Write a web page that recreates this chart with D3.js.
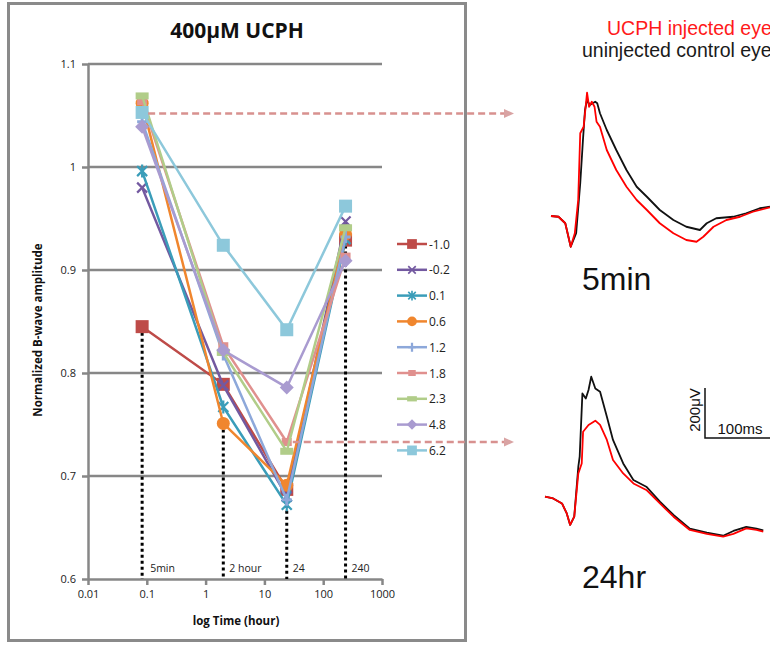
<!DOCTYPE html>
<html><head><meta charset="utf-8">
<script src="https://cdn.jsdelivr.net/npm/d3@7"></script>
<style>
html,body{margin:0;padding:0;background:#fff;}
svg{display:block;}
</style></head><body>
<svg id="c" width="770" height="646"></svg>
<script>
// ---------- DATA ----------
const timePoints = [0.0833, 2, 24, 240];
const seriesNames = ["-1.0","-0.2","0.1","0.6","1.2","1.8","2.3","4.8","6.2"];
const vM10 = [0.845, 0.789, 0.687, 0.929];
const vM02 = [0.980, 0.788, 0.680, 0.947];
const v01  = [0.996, 0.767, 0.672, 0.930];
const v06  = [1.062, 0.751, 0.691, 0.935];
const v12  = [1.044, 0.818, 0.677, 0.932];
const v18  = [1.064, 0.826, 0.733, 0.913];
const v23  = [1.069, 0.820, 0.724, 0.941];
const v48  = [1.039, 0.822, 0.786, 0.909];
const v62  = [1.053, 0.924, 0.842, 0.962];
const seriesValues = [vM10, vM02, v01, v06, v12, v18, v23, v48, v62];
const seriesColors = ["#BE4B48","#7359A0","#3A9DB9","#F0862E","#8DA8DA","#E0908E","#B1CD89","#A99BD0","#8DC8DB"];
const seriesMarkers = ["square","x","star","circle","plus","dashS","dashL","diamond","square"];

const xTicks = [0.01, 0.1, 1, 10, 100, 1000];
const xTickLabels = ["0.01","0.1","1","10","100","1000"];
const yTicks = [0.6, 0.7, 0.8, 0.9, 1.0, 1.1];
const yTickLabels = ["0.6","0.7","0.8","0.9","1","1.1"];
const timeLabels = ["5min","2 hour","24","240"];
const dropTops = [0.845, 0.751, 0.672, 0.947];
const arrowTimes = [0.0833, 24];
const arrowLevels = [1.052, 0.733];

// ERG traces (ms, µV)
const t5Red   = [0,11,21,29,35,40,43,48,53,56,60,64,67,72,82,96,111,126,141,160,180,199,214,224,239,258,278,297,322];
const v5Red   = [0,-3,-29,-123,-69,64,331,357,493,437,457,437,377,357,264,184,117,64,24,-29,-69,-96,-103,-83,-43,-16,-3,17,35];
const t5Black = [0,11,21,29,37,43,47,50,53,57,65,68,72,82,96,111,126,141,160,180,199,219,229,243,268,287,307,322];
const v5Black = [0,-3,-29,-123,-69,131,304,424,464,444,457,451,411,344,264,184,117,77,24,-16,-43,-56,-29,-9,-3,11,31,37];
const t24Red   = [0,12,25,32,37,43,49,54,56,64,74,81,91,100,115,130,149,169,189,213,238,262,277,296,311,321];
const v24Red   = [0,-7,-27,-67,-113,-80,93,133,260,287,304,287,227,147,93,53,27,-27,-80,-133,-149,-160,-149,-127,-133,-140];
const t24Black = [0,12,25,32,37,43,49,51,55,60,64,68,74,81,91,100,115,130,149,169,189,213,238,262,277,296,311,321];
const v24Black = [0,-7,-27,-67,-113,-80,120,160,413,393,427,480,433,420,320,227,133,67,40,-20,-73,-128,-144,-156,-137,-121,-128,-135];

// ---------- DRAW ----------
const svg = d3.select("#c");
const FONT = "'Open Sans', sans-serif";
const ARIAL = "'Liberation Sans', Arial, sans-serif";
const gridC = "#878787";

// outer frame
svg.append("rect").attr("x",8.5).attr("y",3.5).attr("width",457).attr("height",637)
  .attr("fill","none").attr("stroke","#8a8a8a").attr("stroke-width",3);

svg.append("text").attr("x",237).attr("y",38).attr("text-anchor","middle")
  .attr("font-family",FONT).attr("font-weight","bold").attr("font-size",21).attr("fill","#111")
  .text("400μM UCPH");

const x = d3.scaleLog().domain([0.01,1000]).range([88,382]);
const y = d3.scaleLinear().domain([0.6,1.1]).range([579,64]);

// gridlines
svg.append("g").selectAll("line").data(yTicks.slice(1)).join("line")
  .attr("x1",88).attr("x2",382).attr("y1",d=>y(d)).attr("y2",d=>y(d))
  .attr("stroke",gridC).attr("stroke-width",2.5);

// axes
const yAxis = d3.axisLeft(y).tickValues(yTicks).tickFormat((d,i)=>yTickLabels[i]).tickSize(6).tickSizeOuter(0);
const gy = svg.append("g").attr("transform","translate(88,0)").call(yAxis);
const xAxis = d3.axisBottom(x).tickValues(xTicks).tickFormat((d,i)=>xTickLabels[i]).tickSize(6).tickSizeOuter(0);
const gx = svg.append("g").attr("transform","translate(0,579)").call(xAxis);
[gx,gy].forEach(g=>{
  g.select(".domain").attr("stroke",gridC).attr("stroke-width",2.5);
  g.selectAll(".tick line").attr("stroke",gridC).attr("stroke-width",2.5);
  g.selectAll(".tick text").attr("font-family",FONT).attr("font-size",11).attr("fill","#222");
});
gy.selectAll(".tick text").attr("x",-12);
gx.selectAll(".tick text").attr("y",11);

svg.append("text").attr("transform","translate(42,330) rotate(-90)").attr("text-anchor","middle")
  .attr("font-family",FONT).attr("font-weight","bold").attr("font-size",11.5).attr("fill","#111")
  .text("Normalized B-wave amplitude");
svg.append("text").attr("x",236).attr("y",625).attr("text-anchor","middle")
  .attr("font-family",FONT).attr("font-weight","bold").attr("font-size",11.5).attr("fill","#111")
  .text("log Time (hour)");

// dotted drop lines
svg.append("g").selectAll("line").data(timePoints).join("line")
  .attr("x1",d=>x(d)).attr("x2",d=>x(d)).attr("y1",(d,i)=>y(dropTops[i])).attr("y2",y(0.6))
  .attr("stroke","#000").attr("stroke-width",3).attr("stroke-dasharray","3,3");
const tlOff = [8, 6, 6, 6];
svg.append("g").selectAll("text").data(timeLabels).join("text")
  .attr("x",(d,i)=>x(timePoints[i])+tlOff[i]).attr("y",572)
  .attr("font-family",FONT).attr("font-size",10.5).attr("fill","#222").text(d=>d);

// marker function
function marker(g, type, cx, cy, color, s){
  const m = g.append("g").attr("transform",`translate(${cx},${cy}) scale(${s})`);
  switch(type){
    case "square": m.append("rect").attr("x",-6.5).attr("y",-6.5).attr("width",13).attr("height",13).attr("fill",color); break;
    case "x": m.append("path").attr("d","M-5,-5L5,5M-5,5L5,-5").attr("stroke",color).attr("stroke-width",2.2).attr("fill","none"); break;
    case "star": m.append("path").attr("d","M-5,-5L5,5M-5,5L5,-5M0,-6.5L0,6.5").attr("stroke",color).attr("stroke-width",2.2).attr("fill","none"); break;
    case "circle": m.append("circle").attr("r",6.5).attr("fill",color); break;
    case "plus": m.append("path").attr("d","M-5,0L5,0M0,-6L0,6").attr("stroke",color).attr("stroke-width",3).attr("fill","none"); break;
    case "dashS": m.append("rect").attr("x",-5).attr("y",-4).attr("width",10).attr("height",8).attr("fill",color); break;
    case "dashL": m.append("rect").attr("x",-6.5).attr("y",-3.5).attr("width",13).attr("height",7).attr("fill",color); break;
    case "diamond": m.append("path").attr("d","M0,-7L7,0L0,7L-7,0Z").attr("fill",color); break;
  }
}

// series
const line = d3.line().x(d=>x(d[0])).y(d=>y(d[1]));
seriesValues.forEach((vals,i)=>{
  const g = svg.append("g");
  const pts = timePoints.map((t,j)=>[t,vals[j]]);
  g.append("path").attr("d",line(pts)).attr("fill","none").attr("stroke",seriesColors[i]).attr("stroke-width",2.5);
  pts.forEach(p=>marker(g, seriesMarkers[i], x(p[0]), y(p[1]), seriesColors[i], 1));
});

// legend
const lg = svg.append("g");
seriesNames.forEach((n,i)=>{
  const ly = 244 + i*25.8;
  lg.append("line").attr("x1",397).attr("x2",427).attr("y1",ly).attr("y2",ly).attr("stroke",seriesColors[i]).attr("stroke-width",2.5);
  marker(lg, seriesMarkers[i], 412, ly, seriesColors[i], 0.75);
  lg.append("text").attr("x",429).attr("y",ly+4.5).attr("font-family",FONT).attr("font-size",12).attr("fill","#222").text(n);
});

// pink dashed arrows
const arrowC = "#D8918F";
arrowTimes.forEach((t,i)=>{
  const yy = y(arrowLevels[i]);
  svg.append("line").attr("x1",x(t)+6).attr("x2",504).attr("y1",yy).attr("y2",yy)
    .attr("stroke",arrowC).attr("stroke-width",2.5).attr("stroke-dasharray","7,4");
  svg.append("path").attr("d",`M504,${yy-4.5}L514,${yy}L504,${yy+4.5}Z`).attr("fill","#D9A3A3");
});

// ERG traces
function trace(x0, y0, tArr, vArr, color){
  const tx = d3.scaleLinear().domain([0,100]).range([x0, x0+68]);
  const ty = d3.scaleLinear().domain([0,200]).range([y0, y0-50]);
  const l = d3.line().x(d=>tx(d[0])).y(d=>ty(d[1]));
  svg.append("path").attr("d",l(tArr.map((t,i)=>[t,vArr[i]]))).attr("fill","none")
    .attr("stroke",color).attr("stroke-width",1.8).attr("stroke-linejoin","round");
  return [tx,ty];
}
trace(551,216,t5Black,v5Black,"#111");
trace(551,216,t5Red,v5Red,"#FF0000");
const [sx,sy] = trace(545,496.7,t24Black,v24Black,"#111");
trace(545,496.7,t24Red,v24Red,"#FF0000");

// scale bar (100 ms, 200 µV)
const bx = 705, by = 438;
const msPx = sx(100)-sx(0), uvPx = sy(0)-sy(200);
svg.append("path").attr("d",`M${bx},${by-uvPx}L${bx},${by}L${bx+msPx},${by}`)
  .attr("fill","none").attr("stroke","#111").attr("stroke-width",1.5);
svg.append("text").attr("transform",`translate(${bx-5},${by-uvPx/2-3}) rotate(-90)`).attr("text-anchor","middle")
  .attr("font-family",ARIAL).attr("font-size",15).attr("fill","#111").text("200μV");
svg.append("text").attr("x",740).attr("y",434).attr("text-anchor","middle")
  .attr("font-family",ARIAL).attr("font-size",15).attr("fill","#111").text("100ms");

svg.append("text").attr("x",582).attr("y",290).attr("font-family",ARIAL).attr("font-size",32).attr("fill","#111").text("5min");
svg.append("text").attr("x",582).attr("y",588).attr("font-family",ARIAL).attr("font-size",32).attr("fill","#111").text("24hr");

svg.append("text").attr("x",607).attr("y",35).attr("font-family",ARIAL).attr("font-size",19.5).attr("fill","#FF1A1A").text("UCPH injected eye");
svg.append("text").attr("x",582).attr("y",57).attr("font-family",ARIAL).attr("font-size",19.5).attr("fill","#1a1a1a").text("uninjected control eye");
</script>
</body></html>
